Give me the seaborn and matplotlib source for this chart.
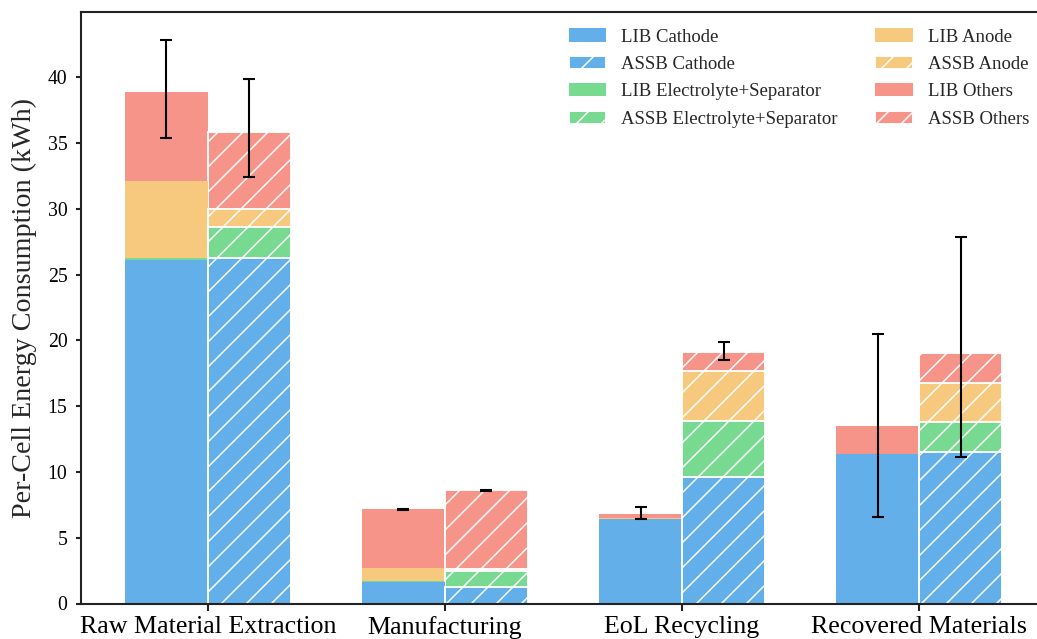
import numpy as np
import pandas as pd
import matplotlib
matplotlib.use("Agg")
import matplotlib.pyplot as plt
import seaborn as sns
from matplotlib.patches import Patch

# ---------------- data ----------------
categories = ["Raw Material Extraction", "Manufacturing", "EoL Recycling", "Recovered Materials"]
batteries = ["LIB", "ASSB"]
components = ["Cathode", "Electrolyte+Separator", "Anode", "Others"]

lib_cathode = [26.1, 1.64, 6.41, 11.4]
lib_electrolyte = [0.15, 0.08, 0.05, 0.0]
lib_anode = [5.85, 0.96, 0.03, 0.0]
lib_others = [6.75, 4.47, 0.35, 2.08]

assb_cathode = [26.3, 1.26, 9.63, 11.48]
assb_electrolyte = [2.3, 1.22, 4.21, 2.28]
assb_anode = [1.35, 0.14, 3.8, 2.97]
assb_others = [5.9, 5.98, 1.45, 2.33]

# error-bar ranges (lower end, upper end)
lib_err_low = [35.4, 7.12, 6.45, 6.54]
lib_err_high = [42.8, 7.18, 7.3, 20.45]
assb_err_low = [32.4, 8.57, 18.5, 11.12]
assb_err_high = [39.9, 8.63, 19.85, 27.83]

colors = {"Cathode": "#63AFE9", "Electrolyte+Separator": "#78DA90",
          "Anode": "#F7C97F", "Others": "#F79489"}

# ---------------- frame ----------------
series = {
    "LIB": [lib_cathode, lib_electrolyte, lib_anode, lib_others],
    "ASSB": [assb_cathode, assb_electrolyte, assb_anode, assb_others],
}
rows = []
for b in batteries:
    for ci, comp in enumerate(components):
        for si, stage in enumerate(categories):
            rows.append({"Stage": stage, "Battery": b, "Component": comp,
                         "Order": ci, "Value": series[b][ci][si]})
df = pd.DataFrame(rows)

# ---------------- style ----------------
sns.set_theme(style="ticks")
plt.rcParams["font.family"] = ["Liberation Serif", "DejaVu Serif"]
plt.rcParams["hatch.linewidth"] = 0.7
plt.rcParams["axes.edgecolor"] = "#222222"
plt.rcParams["axes.linewidth"] = 1.0
plt.rcParams["xtick.color"] = "#222222"
plt.rcParams["ytick.color"] = "#222222"
plt.rcParams["xtick.labelcolor"] = "black"
plt.rcParams["ytick.labelcolor"] = "black"

DPI = 150
fig = plt.figure(figsize=(1037 / DPI, 639 / DPI), dpi=DPI)
ax = fig.add_axes([81 / 1037, 35.5 / 639, 965 / 1037, 592 / 639])

bar_info = {}
for k in reversed(range(len(components))):
    comp = components[k]
    layer = (df[df["Order"] <= k]
             .groupby(["Stage", "Battery"], as_index=False)["Value"].sum()
             .rename(columns={"Value": "Cum"}))
    n0 = len(ax.patches)
    sns.barplot(data=layer, x="Stage", y="Cum", hue="Battery",
                order=categories, hue_order=batteries,
                palette={b: colors[comp] for b in batteries},
                saturation=1, width=0.7, errorbar=None, legend=False, ax=ax)
    for p in ax.patches[n0:]:
        cx = p.get_x() + p.get_width() / 2
        idx = int(round(cx))
        is_assb = cx > idx
        if is_assb:
            p.set_hatch("//")
            p.set_edgecolor("white")
            p.set_linewidth(0.9)
        else:
            p.set_edgecolor("none")
            p.set_linewidth(0)
        if k == len(components) - 1:
            bar_info[(idx, "ASSB" if is_assb else "LIB")] = (cx, p.get_height())

# ---------------- error bars ----------------
err_ranges = {"LIB": (lib_err_low, lib_err_high), "ASSB": (assb_err_low, assb_err_high)}
for b in batteries:
    lo, hi = err_ranges[b]
    xs, ys, yl, yh = [], [], [], []
    for i in range(len(categories)):
        cx, h = bar_info[(i, b)]
        xs.append(cx)
        ys.append(h)
        yl.append(max(h - lo[i], 0))
        yh.append(max(hi[i] - h, 0))
    ax.errorbar(xs, ys, yerr=[yl, yh], fmt="none", ecolor="black",
                elinewidth=1.0, capsize=2.7, capthick=1.0, zorder=5)

# ---------------- axes ----------------
ax.set_ylim(0, 45)
ax.set_xlim(-0.535, 3.535)
ax.set_yticks(np.arange(0, 41, 5))
ax.set_xlabel("")
ax.set_ylabel("Per-Cell Energy Consumption (kWh)", fontsize=13.5, labelpad=5)
ax.tick_params(axis="y", labelsize=9.5, length=2.5, width=1.0, pad=4)
ax.tick_params(axis="x", labelsize=12.5, length=3.5, width=1.0, pad=2.5)
for s in ax.spines.values():
    s.set_visible(True)

# ---------------- legend ----------------
handles, labels = [], []
for comp in components:
    for b in batteries:
        if b == "ASSB":
            h = Patch(facecolor=colors[comp], edgecolor="white", hatch="//", linewidth=0.9)
        else:
            h = Patch(facecolor=colors[comp], edgecolor="none", linewidth=0)
        handles.append(h)
        labels.append(f"{b} {comp}")
ax.legend(handles, labels, ncol=2, loc="upper right", frameon=False, fontsize=9,
          columnspacing=2.0, labelspacing=0.55)

fig.savefig("out.png", dpi=DPI)
